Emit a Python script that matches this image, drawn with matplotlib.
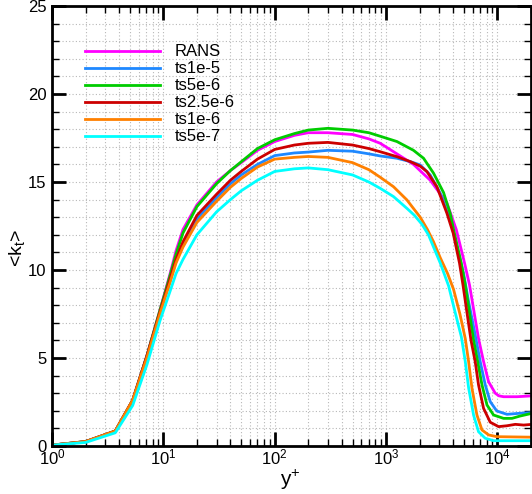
import matplotlib
matplotlib.use("Agg")
import matplotlib.pyplot as plt
from matplotlib.ticker import MultipleLocator, LogLocator, NullFormatter

plt.rcParams['font.family'] = ['Liberation Sans', 'DejaVu Sans']
plt.rcParams['mathtext.fontset'] = 'custom'
plt.rcParams['mathtext.rm'] = 'Liberation Sans'
plt.rcParams['mathtext.it'] = 'Liberation Sans:italic'
plt.rcParams['mathtext.bf'] = 'Liberation Sans:bold'

# ---- data ----
labels = ["RANS", "ts1e-5", "ts5e-6", "ts2.5e-6", "ts1e-6", "ts5e-7"]
colors = ["#ff00ff", "#1e88ff", "#00cc00", "#cc0000", "#ff8000", "#00ffff"]

x_rans = [1, 2, 3.7, 5.3, 7.1, 9.3, 11.5, 13, 15, 20, 30, 40, 50, 70, 100, 150, 200, 300, 500, 700, 885, 1250,
          1762, 2489, 3517, 4266, 5060, 5610, 6760, 7500, 8320, 9550, 10300, 11350, 15000, 20500]
y_rans = [0.05, 0.25, 0.85, 2.6, 5.1, 7.7, 9.8, 11.1, 12.3, 13.7, 15.0, 15.65, 16.1, 16.8, 17.3, 17.65, 17.8,
          17.8, 17.7, 17.45, 17.2, 16.6, 16.0, 15.1, 13.8, 12.3, 10.4, 9.15, 6.1, 4.8, 3.65, 3.0, 2.85, 2.8,
          2.8, 2.85]

x_ts1e5 = [1, 2, 3.7, 5.3, 7.1, 9.3, 11.5, 13, 15, 20, 30, 40, 50, 70, 100, 150, 200, 300, 500, 700, 885,
           1250, 1647, 2024, 2489, 3062, 3767, 4322, 4960, 5507, 6310, 7000, 7770, 8610, 9850, 12170, 15900,
           20500]
y_ts1e5 = [0.05, 0.25, 0.85, 2.6, 5.1, 7.6, 9.4, 10.5, 11.4, 12.9, 14.1, 14.9, 15.4, 16.0, 16.5, 16.65, 16.7,
           16.8, 16.75, 16.6, 16.48, 16.35, 16.16, 15.97, 15.4, 14.36, 12.84, 11.33, 9.8, 8.2, 6.3, 4.79, 3.47,
           2.52, 1.99, 1.8, 1.86, 1.9]

x_ts5e6 = [1, 2, 3.7, 5.3, 7.1, 9.3, 11.5, 13, 15, 20, 30, 40, 50, 70, 100, 150, 200, 300, 500, 700, 885,
           1250, 1762, 2168, 2667, 3280, 3767, 4033, 4730, 5140, 6100, 6640, 7260, 8050, 9220, 11350, 13500,
           15900, 20500]
y_ts5e6 = [0.05, 0.25, 0.85, 2.6, 5.1, 7.7, 9.7, 10.9, 12.1, 13.6, 14.9, 15.65, 16.15, 16.9, 17.4, 17.75,
           17.95, 18.05, 17.95, 17.8, 17.6, 17.3, 16.8, 16.35, 15.5, 14.4, 13.2, 12.3, 10.38, 9.15, 6.02, 4.8,
           3.47, 2.33, 1.76, 1.57, 1.57, 1.7, 1.86]

x_ts25e6 = [1, 2, 3.7, 5.3, 7.1, 9.3, 11.5, 13, 15, 20, 30, 40, 50, 70, 100, 150, 200, 300, 500, 700, 885,
            1250, 1647, 2024, 2327, 2858, 3517, 4000, 4565, 4900, 5780, 6310, 6760, 7500, 8610, 10230, 12170,
            14460, 17170, 20500]
y_ts25e6 = [0.05, 0.25, 0.85, 2.6, 5.1, 7.6, 9.5, 10.6, 11.6, 13.1, 14.3, 15.1, 15.6, 16.3, 16.85, 17.1,
            17.2, 17.25, 17.1, 16.9, 16.72, 16.44, 16.16, 15.9, 15.59, 14.73, 13.22, 12.1, 10.38, 9.15, 6.02,
            4.79, 3.47, 2.14, 1.35, 1.1, 1.15, 1.23, 1.19, 1.23]

x_ts1e6 = [1, 2, 3.7, 5.3, 7.1, 9.3, 11.5, 13, 15, 20, 30, 40, 50, 70, 100, 150, 200, 300, 500, 700, 885,
           1166, 1538, 2024, 2350, 2667, 3062, 3564, 4033, 4600, 5140, 5507, 5900, 6540, 7260, 8320, 9850,
           20500]
y_ts1e6 = [0.05, 0.25, 0.85, 2.6, 5.0, 7.5, 9.3, 10.4, 11.3, 12.7, 13.9, 14.7, 15.2, 15.85, 16.3, 16.4,
           16.45, 16.4, 16.1, 15.7, 15.27, 14.73, 13.98, 13.0, 12.3, 11.6, 10.7, 9.8, 8.9, 7.5, 6.1, 4.79, 3.28,
           1.76, 0.91, 0.63, 0.53, 0.5]

x_ts5e7 = [1, 2, 3.7, 5.3, 7.1, 9.3, 11.5, 13, 15, 20, 30, 40, 50, 70, 100, 150, 200, 300, 500, 700, 885,
           1166, 1538, 1800, 2096, 2400, 2667, 3062, 3640, 4090, 4740, 5140, 5507, 6100, 6760, 7770, 9220,
           20500]
y_ts5e7 = [0.05, 0.2, 0.75, 2.3, 4.6, 7.1, 8.8, 9.8, 10.6, 12.0, 13.3, 14.0, 14.5, 15.1, 15.6, 15.75, 15.8,
           15.7, 15.4, 15.0, 14.64, 14.17, 13.5, 13.1, 12.6, 12.0, 11.3, 10.4, 9.1, 7.8, 6.2, 4.8, 3.3, 1.76,
           0.81, 0.44, 0.3, 0.3]

series = [(x_rans, y_rans), (x_ts1e5, y_ts1e5), (x_ts5e6, y_ts5e6),
          (x_ts25e6, y_ts25e6), (x_ts1e6, y_ts1e6), (x_ts5e7, y_ts5e7)]

# ---- figure ----
W, H = 532, 494
fig = plt.figure(figsize=(W / 100, H / 100), dpi=100)
ax = fig.add_axes([52 / W, 1 - 446 / H, (531 - 52) / W, 440 / H])

for (xs, ys), lab, col in zip(series, labels, colors):
    ax.plot(xs, ys, color=col, lw=2.0, label=lab, solid_joinstyle='round')

ax.set_xscale('log')
ax.set_xlim(1, 2.0e4)
ax.set_ylim(0, 25)
ax.yaxis.set_major_locator(MultipleLocator(5))
ax.yaxis.set_minor_locator(MultipleLocator(1))
ax.xaxis.set_major_locator(LogLocator(base=10, numticks=10))
ax.xaxis.set_minor_locator(LogLocator(base=10, subs=range(2, 10), numticks=20))
ax.xaxis.set_minor_formatter(NullFormatter())

ax.grid(which='both', linestyle=(0, (1, 2)), color='#b8b8b8', lw=0.8)
ax.set_axisbelow(True)

ax.tick_params(which='major', direction='in', length=10, width=2, top=True, right=True,
               labelsize=12)
ax.tick_params(axis='x', which='major', pad=1)
ax.tick_params(axis='y', which='major', pad=4)
ax.tick_params(which='minor', direction='in', length=5, width=1, top=True, right=True)
for sp in ax.spines.values():
    sp.set_linewidth(2)

ax.set_xlabel('y$^{+}$', fontsize=15)
ax.set_ylabel('<k$_{\\mathrm{t}}$>', fontsize=14)
ax.xaxis.set_label_coords(0.497, -0.05)
ax.yaxis.set_label_coords(-0.052, 0.45)

leg = ax.legend(loc='upper left', bbox_to_anchor=(0.055, 0.928), frameon=False, fontsize=12,
                handlelength=4.5, handletextpad=0.9, labelspacing=0.12, borderaxespad=0)

fig.savefig('out.png', dpi=100)
